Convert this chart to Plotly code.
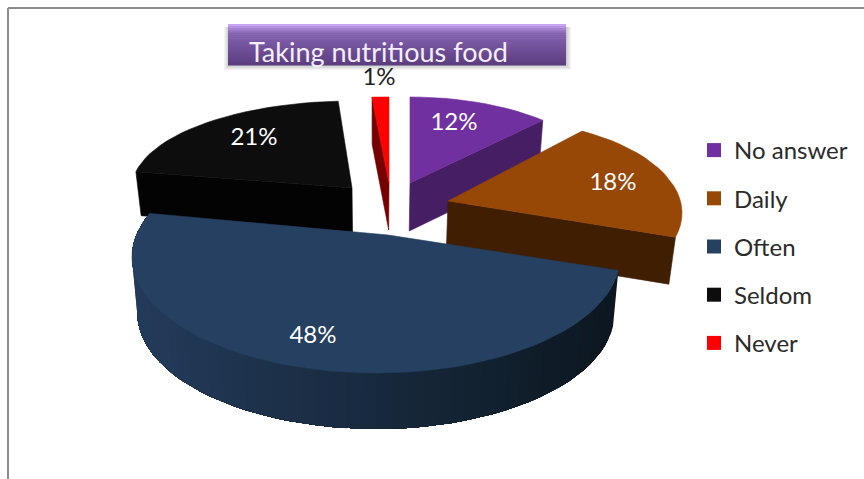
import numpy as np
import plotly.graph_objects as go

# ---- data ----
categories = ["No answer", "Daily", "Often", "Seldom", "Never"]
percents = [12, 18, 48, 21, 1]
title_text = "Taking nutritious food"

# ---- colours ----
top_colors = ["#7030A0", "#974706", "#254061", "#0D0D0D", "#FF0000"]
wall_colors = ["#461E64", "#3F1E02", "#16263C", "#030303", "#760000"]
label_colors = ["white", "white", "white", "white", "#222222"]

# ---- drawing geometry in chart coordinates ----
apex = [(410, 183), (448, 201), (388, 235), (352, 188), (389, 183)]
ellipse_center = [(410, 183), (492, 213), (376, 257), (352, 188), (389, 183)]
radius_x = [194, 190, 244, 220, 270]
radius_y = [86, 93, 116, 87, 86]
depth = [48, 47, 56, 44, 47]
cut_side = [1, 1, None, 0, 0]
label_pos = [(454, 124), (613, 184), (313, 337), (254, 139), (379, 79)]
draw_order = [3, 4, 0, 1, 2]
VANISH_X, SHRINK = 375, 0.022
W, H = 864, 479

# fraction of the full turn -> clockwise angle from 12 o'clock
total = sum(percents)
edges = np.cumsum([0] + percents) / total * 2 * np.pi


def rim_point(i, theta):
    """Point where the slice edge at angle theta meets the slice's projected ellipse."""
    ax = (apex[i][0] - ellipse_center[i][0]) / radius_x[i]
    ay = (apex[i][1] - ellipse_center[i][1]) / radius_y[i]
    dx, dy = np.sin(theta), -np.cos(theta)
    dot = ax * dx + ay * dy
    s = -dot + np.sqrt(dot * dot + 1 - ax * ax - ay * ay)
    return (ellipse_center[i][0] + (ax + s * dx) * radius_x[i],
            ellipse_center[i][1] + (ay + s * dy) * radius_y[i])


def lower(i, p):
    return (p[0] - SHRINK * (p[0] - VANISH_X), p[1] + depth[i])


def poly(pts, color, width=0.6):
    xs = [p[0] for p in pts] + [pts[0][0]]
    ys = [p[1] for p in pts] + [pts[0][1]]
    return go.Scatter(x=xs, y=ys, mode="lines", fill="toself", fillcolor=color,
                      line=dict(color=color, width=width), hoverinfo="skip", showlegend=False)


def mix(c1, c2, t):
    a = [int(c1[k:k + 2], 16) for k in (1, 3, 5)]
    b = [int(c2[k:k + 2], 16) for k in (1, 3, 5)]
    return "#%02x%02x%02x" % tuple(round(u + (v - u) * t) for u, v in zip(a, b))


fig = go.Figure()

for i in draw_order:
    t0, t1 = edges[i], edges[i + 1]
    thetas = np.linspace(t0, t1, max(8, int((t1 - t0) / np.radians(3))))
    rim = [rim_point(i, t) for t in thetas]
    if cut_side[i] is None:
        # curved outer wall, shaded left to right; each band is painted over the
        # previous one and reaches to the far end, so no seams show between bands
        for j in range(len(rim) - 1):
            span = rim[j:]
            t = np.clip(((rim[j][0] + rim[j + 1][0]) / 2 - 137) / 480, 0, 1)
            fig.add_trace(poly(span + [lower(i, p) for p in reversed(span)],
                               mix("#233B5A", "#0C1720", t), width=0))
    else:
        corner = rim[-1] if cut_side[i] == 1 else rim[0]
        fig.add_trace(poly([apex[i], corner, lower(i, corner), lower(i, apex[i])], wall_colors[i]))
    fig.add_trace(poly([apex[i]] + rim, top_colors[i]))

# percentage labels
for i, (cat, v) in enumerate(zip(categories, percents)):
    fig.add_trace(go.Scatter(x=[label_pos[i][0]], y=[label_pos[i][1]], mode="text",
                             text=[f"{v}%"], textposition="middle center",
                             textfont=dict(family="Lato", size=24, color=label_colors[i]),
                             hoverinfo="skip", showlegend=False))

# legend entries
for i, cat in enumerate(categories):
    fig.add_trace(go.Scatter(x=[None], y=[None], mode="markers", name=cat, legendgroup=cat,
                             marker=dict(symbol="square", size=14, color=top_colors[i])))

# frame and title box
shapes = [
    dict(type="line", xref="x", yref="y", x0=8, x1=864, y0=8, y1=8, line=dict(color="#8C8C8C", width=2)),
    dict(type="line", xref="x", yref="y", x0=8, x1=8, y0=8, y1=479, line=dict(color="#8C8C8C", width=2)),
]
bx0, bx1, by0, by1 = 228, 566, 24, 65
for k in range(5, 0, -1):
    shapes.append(dict(type="rect", xref="x", yref="y", x0=bx0 - k + 1, x1=bx1 + k, y0=by0 + 3, y1=by1 + k,
                       fillcolor="rgba(60,60,60,0.06)", line=dict(width=0)))
stripes = 20
for k in range(stripes):
    y0 = by0 + (by1 - by0) * k / stripes
    t = k / (stripes - 1)
    col = mix("#C8A6F2", "#8563B2", t / 0.2) if t < 0.2 else mix("#8563B2", "#5C3E80", (t - 0.2) / 0.8)
    shapes.append(dict(type="rect", xref="x", yref="y", x0=bx0, x1=bx1,
                       y0=y0, y1=y0 + (by1 - by0) / stripes + 0.5,
                       fillcolor=col, line=dict(width=0)))

fig.update_layout(
    width=W, height=H, margin=dict(l=0, r=0, t=0, b=0),
    paper_bgcolor="white", plot_bgcolor="white",
    xaxis=dict(range=[0, W], visible=False, fixedrange=True),
    yaxis=dict(range=[H, 0], visible=False, fixedrange=True),
    shapes=shapes,
    title=dict(text=title_text, x=249 / W, xanchor="left", xref="paper",
               y=1 - 53 / H, yanchor="middle", yref="container",
               font=dict(family="Lato", size=27, color="#F4EEFA")),
    legend=dict(x=694 / W, y=1 - 128 / H, xanchor="left", yanchor="top",
                traceorder="grouped", tracegroupgap=14, itemsizing="trace",
                bgcolor="rgba(0,0,0,0)", font=dict(family="Lato", size=24, color="#2A2A2A")),
)
fig.write_html("out.html", config={"displayModeBar": False},
               post_script="document.body.style.margin='0';document.body.style.overflow='hidden';")
